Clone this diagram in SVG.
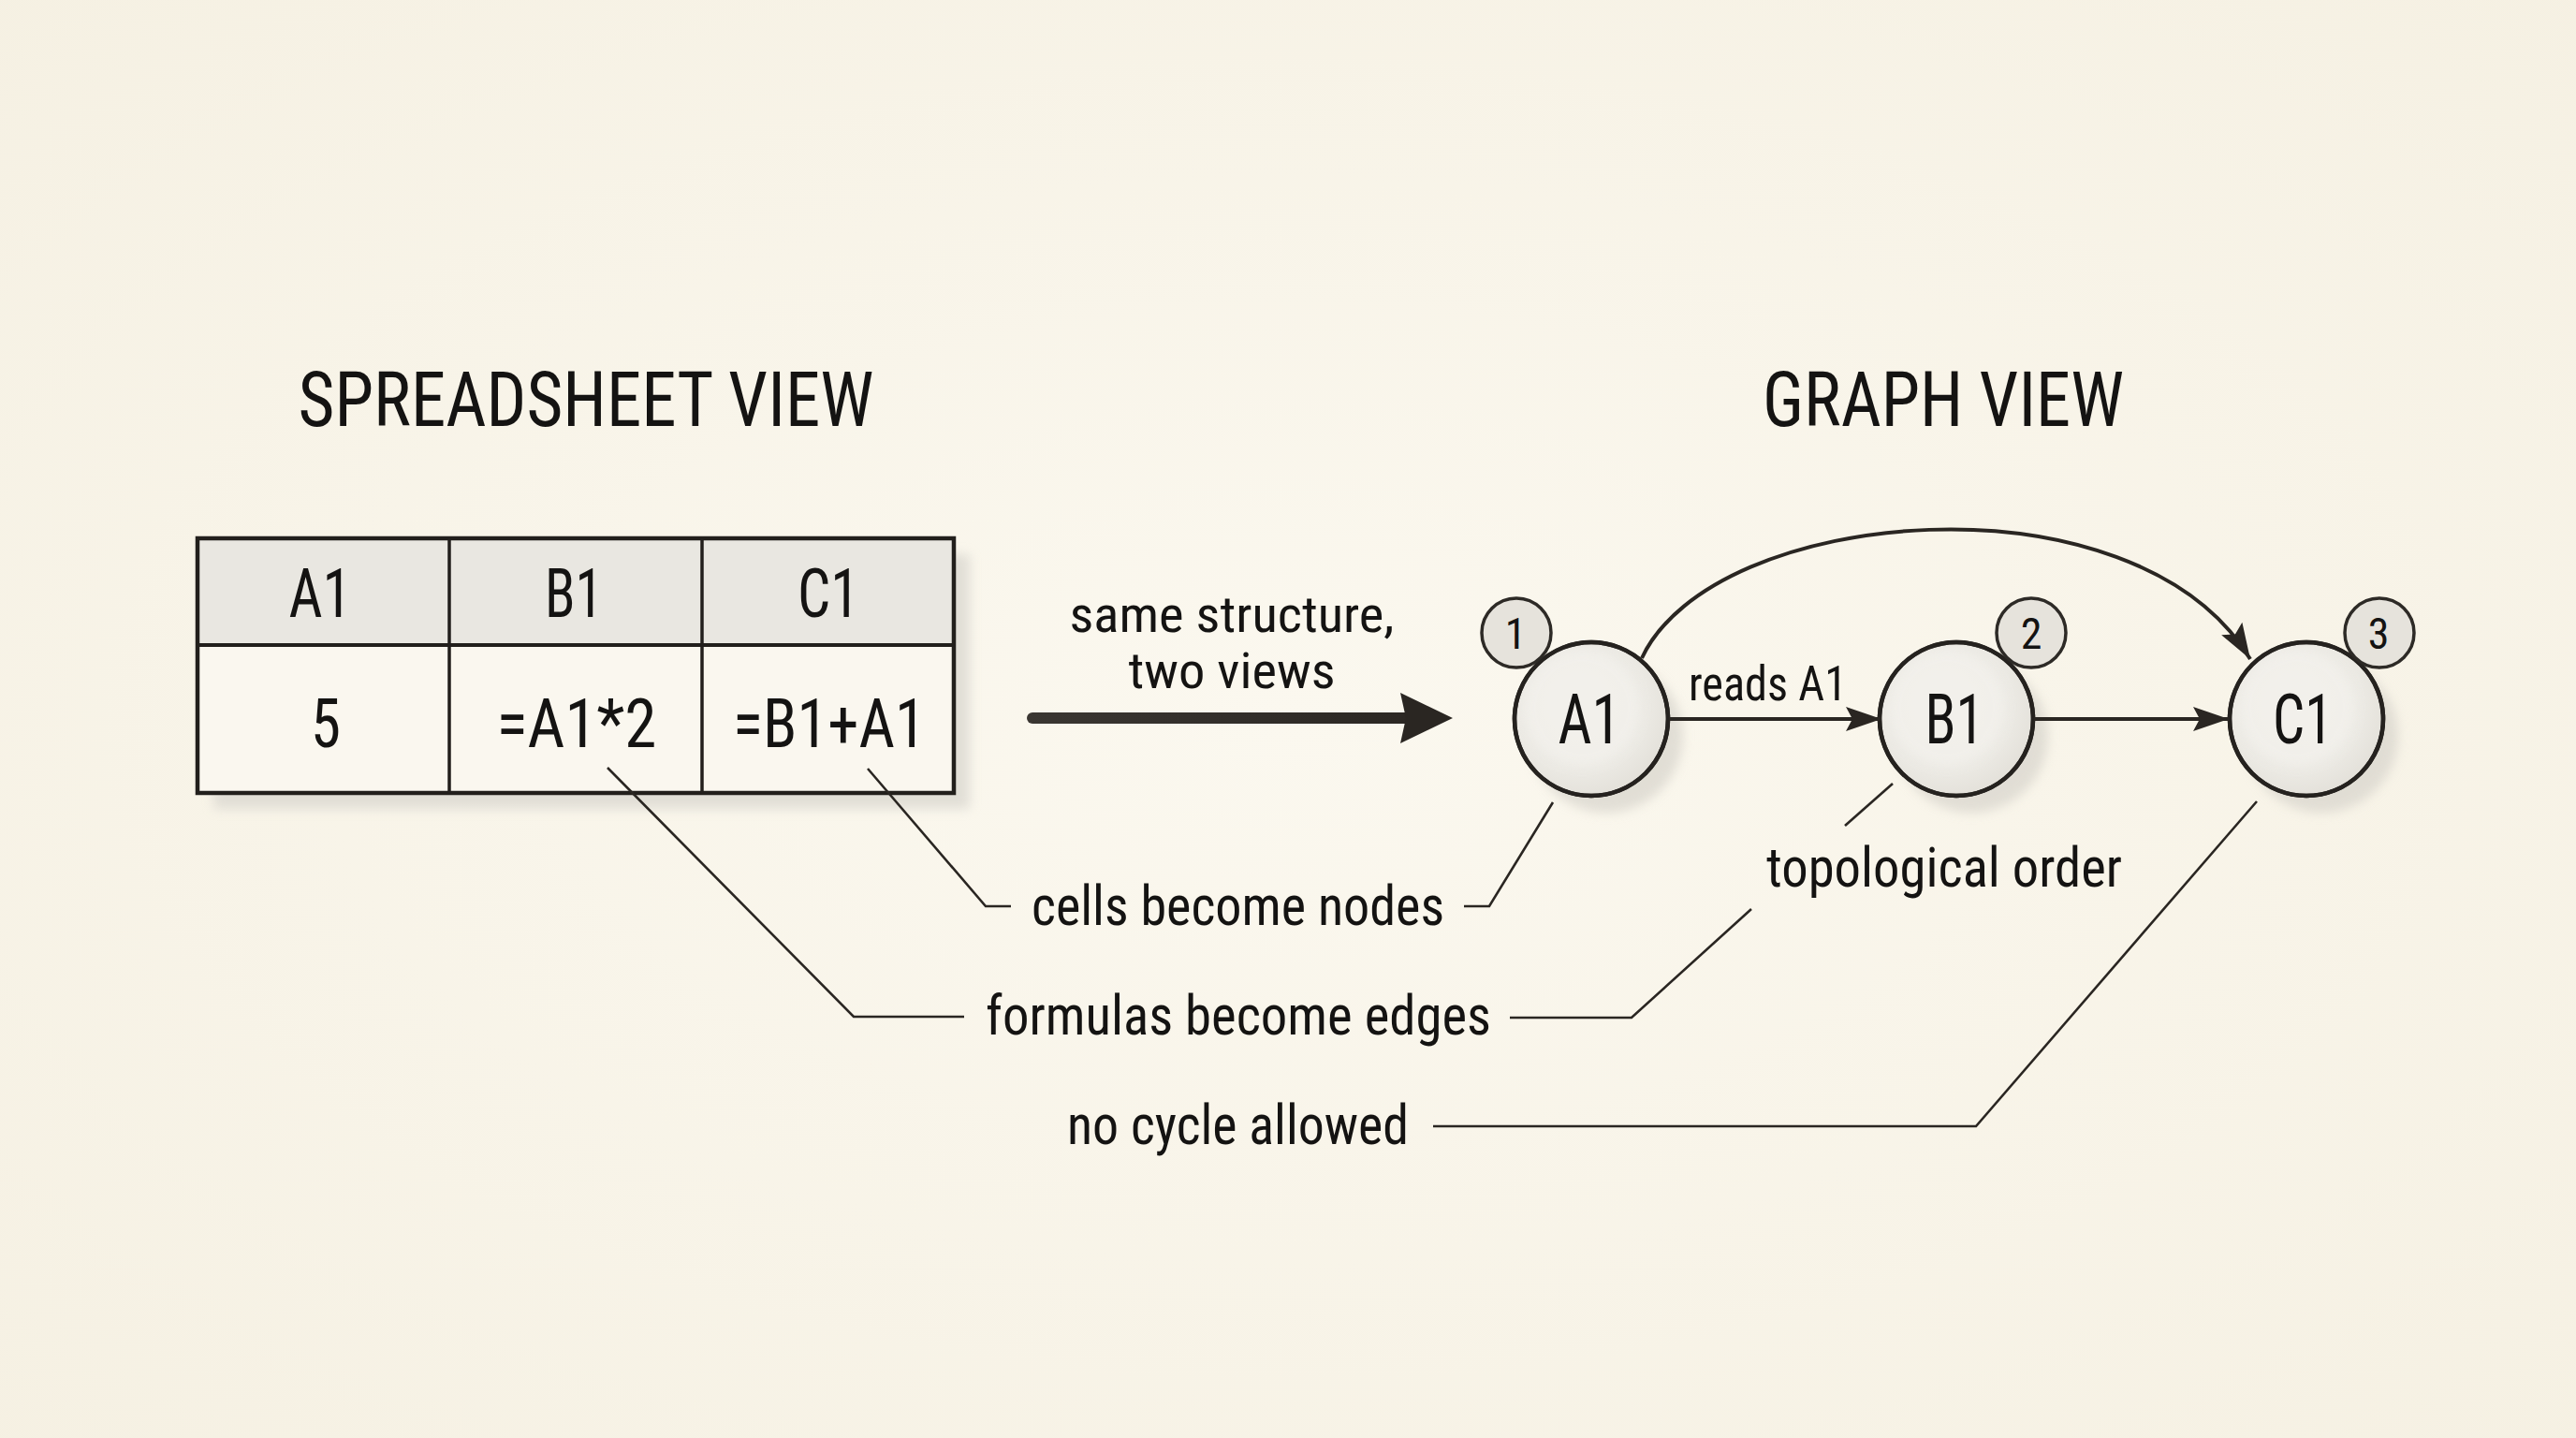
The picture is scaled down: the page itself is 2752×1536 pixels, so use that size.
<svg xmlns="http://www.w3.org/2000/svg" width="2752" height="1536" viewBox="0 0 2752 1536">
  <defs>
    <radialGradient id="bg" cx="50%" cy="50%" r="75%">
      <stop offset="0" stop-color="#fbf8ef"/>
      <stop offset="1" stop-color="#f5f0e2"/>
    </radialGradient>
    <radialGradient id="nodeFill" cx="42%" cy="40%" r="65%">
      <stop offset="0" stop-color="#f1efea"/>
      <stop offset="0.7" stop-color="#ebe9e3"/>
      <stop offset="1" stop-color="#e2dfd8"/>
    </radialGradient>
    <linearGradient id="arrowGrad" gradientUnits="userSpaceOnUse" x1="1097" y1="767" x2="1552" y2="767">
      <stop offset="0" stop-color="#3a3632"/>
      <stop offset="1" stop-color="#2a2622"/>
    </linearGradient>
    <filter id="soft" x="-30%" y="-30%" width="160%" height="160%">
      <feGaussianBlur stdDeviation="6"/>
    </filter>
    <marker id="head" markerUnits="userSpaceOnUse" markerWidth="40" markerHeight="28" refX="38" refY="13" orient="auto">
      <path d="M0,0 L38,13 L0,26 L7,13 Z" fill="#2a2622"/>
    </marker>
    <style>
      text { font-family: "Roboto Condensed", "Roboto", "Liberation Sans", sans-serif; fill: #141312; }
      .title { font-size: 82px; text-anchor: middle; }
      .cell { font-size: 72px; text-anchor: middle; }
      .note { font-size: 60px; }
      .mid { font-size: 54px; text-anchor: middle; }
      .nodeText { font-size: 74px; text-anchor: middle; }
      .badgeText { font-size: 46px; text-anchor: middle; }
      .grid { stroke: #221f1c; fill: none; }
      .edge { stroke: #2a2622; stroke-width: 4; fill: none; }
      .leader { stroke: #2a2622; stroke-width: 2.6; fill: none; }
      .node { fill: url(#nodeFill); stroke: #25221f; stroke-width: 4.5; }
      .hl { fill: #f3f1ec; opacity: 0.8; }
      .shadow { fill: #d9d6ce; opacity: 0.75; }
      .badge { fill: #e6e3dc; stroke: #2d2a26; stroke-width: 3.5; }
    </style>
  </defs>

  <rect x="0" y="0" width="2752" height="1536" fill="url(#bg)"/>

  <!-- Titles -->
  <text class="title" x="626" y="455" textLength="615" lengthAdjust="spacingAndGlyphs">SPREADSHEET VIEW</text>
  <text class="title" x="2076" y="455" textLength="386" lengthAdjust="spacingAndGlyphs">GRAPH VIEW</text>

  <!-- Spreadsheet table -->
  <g id="spreadsheet-table">
    <rect x="228" y="592" width="808" height="272" fill="#dcd9d1" opacity="0.8" filter="url(#soft)"/>
    <rect x="211" y="575" width="808" height="272" fill="#faf7ef"/>
    <rect x="211" y="575" width="808" height="114" fill="#e9e7e1"/>
    <rect x="211" y="575" width="808" height="272" class="grid" stroke-width="4.5"/>
    <line x1="211" y1="689" x2="1019" y2="689" class="grid" stroke-width="4"/>
    <line x1="480" y1="575" x2="480" y2="847" class="grid" stroke-width="3.5"/>
    <line x1="750" y1="575" x2="750" y2="847" class="grid" stroke-width="3.5"/>
    <text class="cell" x="342" y="659" textLength="67" lengthAdjust="spacingAndGlyphs">A1</text>
    <text class="cell" x="613" y="659" textLength="62" lengthAdjust="spacingAndGlyphs">B1</text>
    <text class="cell" x="885" y="659" textLength="66" lengthAdjust="spacingAndGlyphs">C1</text>
    <text class="cell" x="348" y="798" textLength="32" lengthAdjust="spacingAndGlyphs">5</text>
    <text class="cell" x="616" y="798" textLength="171" lengthAdjust="spacingAndGlyphs">=A1*2</text>
    <text class="cell" x="886" y="798" textLength="206" lengthAdjust="spacingAndGlyphs">=B1+A1</text>
  </g>

  <!-- Middle transition arrow and label -->
  <g id="transition">
    <text class="mid" x="1316" y="675" textLength="347" lengthAdjust="spacingAndGlyphs">same structure,</text>
    <text class="mid" x="1316" y="735" textLength="221" lengthAdjust="spacingAndGlyphs">two views</text>
    <line x1="1103" y1="767" x2="1505" y2="767" stroke="url(#arrowGrad)" stroke-width="12" stroke-linecap="round"/>
    <path d="M1496,740 L1552,767 L1496,794 L1502,767 Z" fill="#2a2622"/>
  </g>

  <!-- Graph nodes -->
  <g id="node-A1">
    <circle cx="1716" cy="786" r="82" class="shadow" filter="url(#soft)"/>
    <circle cx="1700" cy="768" r="82" class="node"/>
    <circle cx="1690" cy="756" r="62" class="hl" filter="url(#soft)"/>
    <circle cx="1700" cy="768" r="82" fill="none" stroke="#25221f" stroke-width="4.5"/>
    <text class="nodeText" x="1698" y="794" textLength="67" lengthAdjust="spacingAndGlyphs">A1</text>
  </g>
  <g id="badge-1">
    <circle cx="1620" cy="676" r="37" class="badge"/>
    <text class="badgeText" x="1619" y="693">1</text>
  </g>

  <g id="node-B1">
    <circle cx="2106" cy="786" r="82" class="shadow" filter="url(#soft)"/>
    <circle cx="2090" cy="768" r="82" class="node"/>
    <circle cx="2080" cy="756" r="62" class="hl" filter="url(#soft)"/>
    <circle cx="2090" cy="768" r="82" fill="none" stroke="#25221f" stroke-width="4.5"/>
    <text class="nodeText" x="2088" y="794" textLength="63" lengthAdjust="spacingAndGlyphs">B1</text>
  </g>
  <g id="badge-2">
    <circle cx="2170" cy="676" r="37" class="badge"/>
    <text class="badgeText" x="2170" y="693">2</text>
  </g>

  <g id="node-C1">
    <circle cx="2480" cy="786" r="82" class="shadow" filter="url(#soft)"/>
    <circle cx="2464" cy="768" r="82" class="node"/>
    <circle cx="2454" cy="756" r="62" class="hl" filter="url(#soft)"/>
    <circle cx="2464" cy="768" r="82" fill="none" stroke="#25221f" stroke-width="4.5"/>
    <text class="nodeText" x="2460" y="794" textLength="64" lengthAdjust="spacingAndGlyphs">C1</text>
  </g>
  <g id="badge-3">
    <circle cx="2542" cy="676" r="37" class="badge"/>
    <text class="badgeText" x="2541" y="693">3</text>
  </g>

  <!-- Connectors -->
  <g id="connectors">
    <line class="edge" x1="1783" y1="768" x2="2010" y2="768" marker-end="url(#head)"/>
    <line class="edge" x1="2173" y1="768" x2="2381" y2="768" marker-end="url(#head)"/>
    <path class="edge" d="M1754,703 C1830,540 2280,500 2404,704" marker-end="url(#head)"/>
    <text x="1804" y="748" font-size="52" textLength="169" lengthAdjust="spacingAndGlyphs">reads A1</text>

    <!-- leader lines -->
    <polyline class="leader" points="927,821 1053,968 1080,968"/>
    <polyline class="leader" points="649,820 912,1086 1030,1086"/>
    <polyline class="leader" points="1564,968 1591,968 1659,857"/>
    <polyline class="leader" points="1613,1087 1743,1087 1871,971"/>
    <line class="leader" x1="1971" y1="882" x2="2022" y2="837"/>
    <polyline class="leader" points="1531,1203 2111,1203 2411,856"/>
  </g>

  <!-- Annotation labels -->
  <g id="annotations">
    <text class="note" x="1102" y="988" textLength="441" lengthAdjust="spacingAndGlyphs">cells become nodes</text>
    <text class="note" x="1053" y="1105" textLength="540" lengthAdjust="spacingAndGlyphs">formulas become edges</text>
    <text class="note" x="1140" y="1222" textLength="365" lengthAdjust="spacingAndGlyphs">no cycle allowed</text>
    <text class="note" x="1887" y="947" textLength="380" lengthAdjust="spacingAndGlyphs">topological order</text>
  </g>
</svg>
